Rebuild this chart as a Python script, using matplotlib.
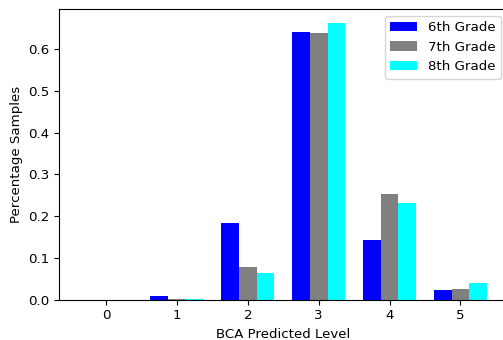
import numpy as np
import matplotlib
matplotlib.use('Agg')
import matplotlib.pyplot as plt

levels = [0, 1, 2, 3, 4, 5]
grade6 = [0.0, 0.008, 0.183, 0.641, 0.143, 0.023]
grade7 = [0.0, 0.001, 0.078, 0.639, 0.253, 0.026]
grade8 = [0.0, 0.001, 0.063, 0.663, 0.231, 0.041]
labels = ['6th Grade', '7th Grade', '8th Grade']
colors = ['blue', 'gray', 'cyan']

plt.rcParams['font.size'] = 9.6

fig = plt.figure(figsize=(5.03, 3.40), dpi=100)
# axes run a little past the right edge, as in the reference crop
ax = fig.add_axes([59.3 / 503, 40.3 / 340, 448.0 / 503, 290.7 / 340])

x = np.arange(len(levels))
w = 0.25
for k, (vals, lab, c) in enumerate(zip([grade6, grade7, grade8], labels, colors)):
    ax.bar(x + (k - 1) * w, vals, w, color=c, label=lab)

ax.set_xticks(x)
ax.set_xticklabels([str(l) for l in levels])
ax.set_xlabel('BCA Predicted Level')
ax.set_ylabel('Percentage Samples')
ax.legend(loc='upper right')

fig.savefig('out.png', dpi=100)
